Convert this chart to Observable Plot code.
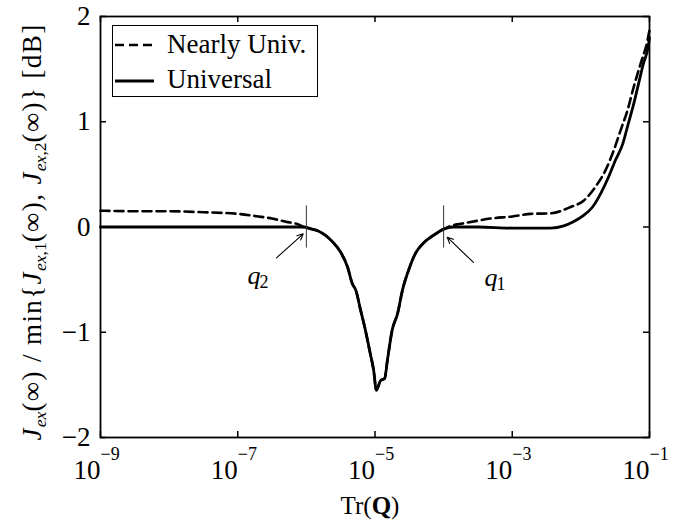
<!DOCTYPE html>
<html><head><meta charset="utf-8">
<script src="https://cdn.jsdelivr.net/npm/d3@7"></script>
<script src="https://cdn.jsdelivr.net/npm/@observablehq/plot@0.6"></script>
<style>
body{margin:0;background:#fff;}
#wrap{position:relative;width:687px;height:522px;font-family:"Liberation Serif","Times New Roman",serif;color:#000;}
#legend{position:absolute;left:112px;top:25px;width:206px;height:72px;box-sizing:border-box;border:1px solid #000;background:#fff;}
#legend svg{position:absolute;left:0;top:0;}
#legend .lt{position:absolute;left:54px;font-size:27px;line-height:27px;white-space:nowrap;font-family:"Liberation Serif",serif;}
#ylabel{position:absolute;left:32px;top:232px;transform:translate(-50%,-50%) rotate(-90deg);white-space:nowrap;font-size:27px;letter-spacing:1.4px;line-height:27px;}
#xlabel{position:absolute;left:370px;top:493px;transform:translateX(-50%);white-space:nowrap;font-size:25px;line-height:25px;}
sub{font-size:65%;vertical-align:-0.3em;line-height:0;letter-spacing:0;}
</style></head><body><div id="wrap"></div>
<script>
// ---- data ----
const xTicks = [1e-9, 1e-7, 1e-5, 1e-3, 1e-1];
const xTickExponents = ["−9", "−7", "−5", "−3", "−1"];
const yTicks = [-2, -1, 0, 1, 2];

const seriesNames = ["Nearly Univ.", "Universal"];

// Universal (solid): log10 of Tr(Q) and dB value
const universalLogX = [-9, -8, -7, -6.5, -6.2, -6.04, -5.92, -5.82, -5.72, -5.62, -5.5, -5.4, -5.33, -5.28, -5.21, -5.14, -5.07, -5.02, -4.98, -4.92, -4.86, -4.82, -4.75, -4.67, -4.6, -4.51, -4.41, -4.29, -4.15, -4.0, -3.86, -3.5, -3.0, -2.73, -2.44, -2.25, -2.11, -1.96, -1.83, -1.71, -1.6, -1.5, -1.39, -1.31, -1.23, -1.16, -1.09, -1.02, -1.0];
const universalY    = [0, 0, 0, 0, 0, 0.0, -0.02, -0.04, -0.08, -0.14, -0.24, -0.38, -0.54, -0.6, -0.79, -0.98, -1.2, -1.36, -1.55, -1.46, -1.44, -1.27, -0.98, -0.82, -0.6, -0.41, -0.25, -0.15, -0.08, -0.02, 0.0, 0.0, -0.01, -0.01, -0.01, 0.01, 0.05, 0.11, 0.19, 0.32, 0.47, 0.63, 0.79, 0.98, 1.17, 1.36, 1.55, 1.71, 1.8];

// Nearly universal (dashed)
const nearlyLogX = [-9, -8.5, -8, -7.5, -7, -6.7, -6.5, -6.3, -6.1, -6.04, -5.92, -5.82, -5.72, -5.62, -5.5, -5.4, -5.33, -5.28, -5.21, -5.14, -5.07, -5.02, -4.98, -4.92, -4.86, -4.82, -4.75, -4.67, -4.6, -4.51, -4.41, -4.29, -4.15, -4.0, -3.9, -3.75, -3.5, -3.32, -3.0, -2.73, -2.44, -2.15, -1.96, -1.79, -1.64, -1.52, -1.42, -1.32, -1.23, -1.13, -1.03, -1.0];
const nearlyY    = [0.155, 0.15, 0.15, 0.14, 0.125, 0.1, 0.08, 0.05, 0.02, 0.0, -0.02, -0.04, -0.08, -0.14, -0.24, -0.38, -0.54, -0.6, -0.79, -0.98, -1.2, -1.36, -1.55, -1.46, -1.44, -1.27, -0.98, -0.82, -0.6, -0.41, -0.25, -0.15, -0.08, -0.02, 0.01, 0.03, 0.06, 0.08, 0.1, 0.125, 0.13, 0.19, 0.25, 0.38, 0.54, 0.73, 0.92, 1.11, 1.33, 1.55, 1.77, 1.87];

// q markers
const markerNames = ["2", "1"];
const markerX = [1e-6, 1e-4];
const markerHalfHeight = [0.2, 0.2];
const arrowTailLogX = [-6.435, -3.565];
const arrowTailY = [-0.293, -0.337];
const arrowTipLogX = [-6.046, -3.948];
const arrowTipY = [-0.065, -0.097];
const labelLogX = [-6.858, -3.404];
const labelY = [-0.537, -0.556];

// ---- build tables ----
const universal = universalLogX.map((e, i) => ({x: 10 ** e, y: universalY[i]}));
const nearly = nearlyLogX.map((e, i) => ({x: 10 ** e, y: nearlyY[i]}));
const markers = markerNames.map((n, i) => ({
  name: n, x: markerX[i], h: markerHalfHeight[i],
  ax1: 10 ** arrowTailLogX[i], ay1: arrowTailY[i],
  ax2: 10 ** arrowTipLogX[i], ay2: arrowTipY[i],
  lx: 10 ** labelLogX[i], ly: labelY[i]
}));
const xt = xTicks.map((v, i) => ({v, e: xTickExponents[i]}));

const W = 687, H = 522, mL = 100, mR = 38, mT = 16, mB = 85;
const fw = W - mL - mR, fh = H - mT - mB, tl = 6;
const font = "Liberation Serif";

const plot = Plot.plot({
  width: W, height: H,
  marginLeft: mL, marginRight: mR, marginTop: mT, marginBottom: mB,
  style: {fontFamily: "'Liberation Serif', serif", background: "#fff", color: "#000"},
  x: {type: "log", domain: [1e-9, 1e-1], axis: null},
  y: {domain: [-2, 2], axis: null},
  marks: [
    Plot.line(nearly, {x: "x", y: "y", stroke: "#000", strokeWidth: 2.6, strokeDasharray: "9,5", curve: "monotone-x"}),
    Plot.line(universal, {x: "x", y: "y", stroke: "#000", strokeWidth: 2.8, curve: "monotone-x"}),
    Plot.ruleX(markers, {x: "x", y1: d => -d.h, y2: d => d.h, stroke: "#333", strokeWidth: 1}),
    Plot.arrow(markers, {x1: "ax1", y1: "ay1", x2: "ax2", y2: "ay2", stroke: "#000", strokeWidth: 1.1, headLength: 9, headAngle: 50}),
    Plot.text(markers, {x: "lx", y: "ly", text: () => "q", fontStyle: "italic", fontSize: 26, textAnchor: "start", lineAnchor: "bottom"}),
    Plot.text(markers, {x: "lx", y: "ly", text: "name", fontSize: 18, textAnchor: "start", lineAnchor: "bottom", dx: 12, dy: 4}),
    Plot.frame({stroke: "#000", strokeWidth: 1.8}),
    Plot.tickX(xTicks, {x: d => d, insetTop: fh - tl, stroke: "#000", strokeWidth: 1.5}),
    Plot.tickX(xTicks, {x: d => d, insetBottom: fh - tl, stroke: "#000", strokeWidth: 1.5}),
    Plot.tickY(yTicks, {y: d => d, insetRight: fw - tl, stroke: "#000", strokeWidth: 1.5}),
    Plot.tickY(yTicks, {y: d => d, insetLeft: fw - tl, stroke: "#000", strokeWidth: 1.5}),
    Plot.text(xt, {x: "v", frameAnchor: "bottom", text: () => "10", textAnchor: "end", lineAnchor: "bottom", dy: 41, fontSize: 27}),
    Plot.text(xt, {x: "v", frameAnchor: "bottom", text: "e", textAnchor: "start", lineAnchor: "bottom", dy: 22, dx: 0, fontSize: 18}),
    Plot.text(yTicks, {y: d => d, frameAnchor: "left", text: d => d < 0 ? "−" + (-d) : String(d), textAnchor: "end", lineAnchor: "middle", dx: -10, fontSize: 27})
  ]
});

const wrap = document.getElementById("wrap");
wrap.appendChild(plot);

// legend
const leg = document.createElement("div");
leg.id = "legend";
leg.innerHTML = `<svg width="204" height="70">
  <line x1="2" x2="41" y1="19" y2="19" stroke="#000" stroke-width="2.6" stroke-dasharray="9,5"/>
  <line x1="2" x2="41" y1="55" y2="55" stroke="#000" stroke-width="2.8"/>
</svg>
<div class="lt" style="top:5px">${seriesNames[0]}</div>
<div class="lt" style="top:40px">${seriesNames[1]}</div>`;
wrap.appendChild(leg);

const yl = document.createElement("div");
yl.id = "ylabel";
yl.innerHTML = `<i>J</i><sub><i>ex</i></sub>(∞) / min{<i>J</i><sub><i>ex</i>,1</sub>(∞), <i>J</i><sub><i>ex</i>,2</sub>(∞)} [dB]`;
wrap.appendChild(yl);

const xl = document.createElement("div");
xl.id = "xlabel";
xl.innerHTML = `Tr(<b>Q</b>)`;
wrap.appendChild(xl);
</script>
</body></html>
